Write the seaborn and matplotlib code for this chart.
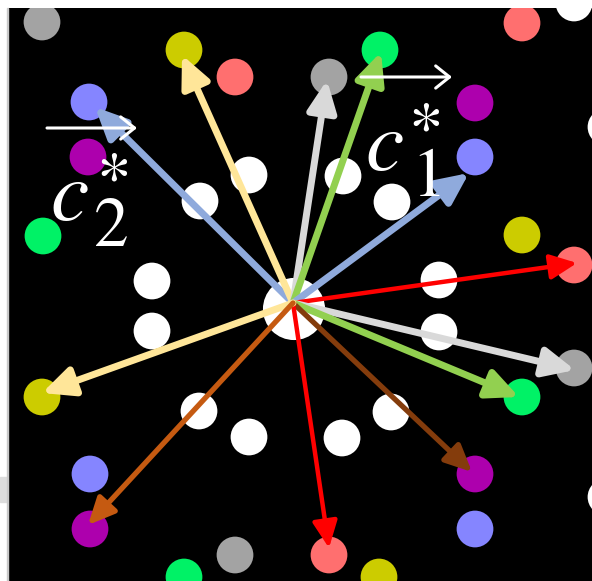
import matplotlib
matplotlib.use("Agg")
import matplotlib.pyplot as plt
import matplotlib.patches as mpatches
import seaborn as sns
import pandas as pd

sns.set_theme(style="white")
plt.rcParams["mathtext.fontset"] = "stix"

# Diffraction spots (pixel frame of the pattern, y grows downward)
spot_x = [42, 184, 235, 89, 88, 43, 522, 574, 380, 329, 475, 475, 522, 574,
          42, 90, 90, 235, 184, 574, 522, 475, 475, 329, 379, 606, 606]
spot_y = [22, 50, 77, 102, 157, 236, 23, 3, 50, 77, 103, 157, 235, 265,
          397, 474, 529, 555, 577, 368, 397, 474, 529, 555, 577, 127, 497]
spot_kind = ["gray", "yellow", "salmon", "violet", "magenta", "green", "salmon", "white",
             "green", "gray", "magenta", "violet", "yellow", "salmon",
             "yellow", "violet", "magenta", "gray", "green", "gray", "green",
             "magenta", "violet", "salmon", "yellow", "white", "white"]

# Inner ring of bright reflections around the direct beam
ring_x = [249, 343, 200, 392, 152, 439, 152, 439, 199, 391, 249, 342]
ring_y = [175, 176, 201, 202, 281, 280, 331, 332, 411, 412, 437, 438]

# Direct beam
beam_x = [294]
beam_y = [309]

# Reciprocal lattice vectors drawn from the origin
origin = (293, 303)
vec_tip_x = [95, 182, 327, 381, 469, 577, 575, 519, 472, 329, 42, 88]
vec_tip_y = [107, 55, 80, 52, 173, 263, 370, 397, 472, 548, 393, 525]
vec_color = ["#8faadc", "#ffe699", "#d9d9d9", "#92d050", "#8faadc", "#ff0000",
             "#d9d9d9", "#92d050", "#843c0c", "#ff0000", "#ffe699", "#c55a11"]
vec_width = [5.0, 5.0, 5.0, 5.0, 5.0, 3.2, 5.0, 5.0, 3.8, 3.2, 5.0, 3.8]

spot_palette = {
    "gray": "#a3a3a3",
    "yellow": "#cccc00",
    "salmon": "#ff6f6f",
    "violet": "#8585ff",
    "magenta": "#ad00ad",
    "green": "#00f266",
    "white": "#ffffff",
}

W, H = 592, 581
fig = plt.figure(figsize=(W / 100, H / 100), dpi=100)
fig.patch.set_facecolor("white")
left, top = 8, 8
ax = fig.add_axes([left / W, 0, (W - left) / W, (H - top) / H])
ax.set_facecolor("black")
ax.set_xlim(left, W)
ax.set_ylim(H, top)
ax.axis("off")
ax.add_patch(mpatches.Rectangle((left, top), W - left, H - top, color="black", zorder=0))

spots = pd.DataFrame({"x": spot_x, "y": spot_y, "kind": spot_kind})
sns.scatterplot(data=spots, x="x", y="y", hue="kind", palette=spot_palette,
                s=700, edgecolor="none", legend=False, ax=ax, zorder=2)
sns.scatterplot(x=ring_x, y=ring_y, color="white", s=700, edgecolor="none",
                legend=False, ax=ax, zorder=2)
sns.scatterplot(x=beam_x, y=beam_y, color="white", s=2000, edgecolor="none",
                legend=False, ax=ax, zorder=2)

for tx, ty, c, lw in zip(vec_tip_x, vec_tip_y, vec_color, vec_width):
    head = 21 if lw >= 4.5 else 18
    ax.annotate("", xy=(tx, ty), xytext=origin,
                arrowprops=dict(arrowstyle="-|>,head_length=0.9,head_width=0.42",
                                lw=lw, color=c, shrinkA=0, shrinkB=0,
                                mutation_scale=head),
                zorder=3)

# Vector labels c1*, c2*: the star sits stacked over the index
def vector_label(x, y, sub, arrow_x0, arrow_x1, arrow_y, sub_dx):
    ax.text(x, y, r"$c$", color="white", fontsize=62, ha="left", va="baseline", zorder=4)
    ax.text(x + sub_dx, y + 26, "$\\mathrm{*}$\n$\\mathrm{%s}$" % sub, color="white",
            fontsize=50, linespacing=0.62, multialignment="right",
            ha="left", va="baseline", zorder=4)
    ax.annotate("", xy=(arrow_x1, arrow_y), xytext=(arrow_x0, arrow_y),
                arrowprops=dict(arrowstyle="->,head_length=0.5,head_width=0.4",
                                lw=2.2, color="white", shrinkA=0, shrinkB=0,
                                mutation_scale=20),
                zorder=4)

vector_label(50, 220, "2", 47, 137, 128, 43)
vector_label(365, 170, "1", 361, 452, 77, 43)

# Frame remnants along the left margin
fig.patches.append(mpatches.Rectangle((0, (H - 502) / H), 7 / W, 25 / H,
                                      transform=fig.transFigure, color="#dcdcdc",
                                      zorder=0))
fig.patches.append(mpatches.Rectangle((7 / W, 0), 1.2 / W, (H - top) / H,
                                      transform=fig.transFigure, color="#c8c8c8",
                                      zorder=0))

fig.savefig("out.png", dpi=100, facecolor="white")
